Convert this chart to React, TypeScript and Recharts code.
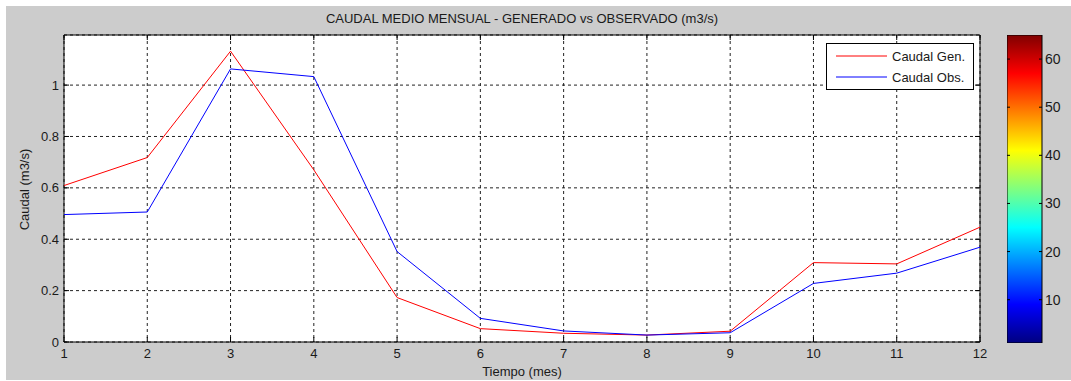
import {
  Bar,
  BarChart,
  CartesianGrid,
  Line,
  LineChart,
  ReferenceArea,
  XAxis,
  YAxis,
} from "recharts";

const months = [1, 2, 3, 4, 5, 6, 7, 8, 9, 10, 11, 12];
const caudalGen = [0.609, 0.718, 1.132, 0.67, 0.173, 0.052, 0.034, 0.027, 0.042, 0.309, 0.304, 0.447];
const caudalObs = [0.496, 0.506, 1.063, 1.033, 0.352, 0.092, 0.043, 0.027, 0.036, 0.228, 0.268, 0.369];
const yTicks = [0, 0.2, 0.4, 0.6, 0.8, 1];
const yMax = 1.195;
const cbTicks = [10, 20, 30, 40, 50, 60];
const cbRange = [1, 65];

const data = months.map((m, i) => ({ mes: m, gen: caudalGen[i], obs: caudalObs[i] }));
const cbData = [{ k: "cb", range: cbRange }];

const FONT = 'Arial, "Liberation Sans", Helvetica, sans-serif';
const INK = "#1a1a1a";
const FS = 13;
// plot box inside the main chart svg
const P = { left: 58, right: 974, top: 29, bottom: 336 };

function XTick(props: any) {
  const { x, y, payload } = props;
  return (
    <g>
      <line x1={x} x2={x} y1={P.bottom} y2={P.bottom - 5} stroke="#000" />
      <line x1={x} x2={x} y1={P.top} y2={P.top + 5} stroke="#000" />
      <text x={x} y={y} dy={16} textAnchor="middle" fill={INK} fontSize={FS} fontFamily={FONT}>
        {payload.value}
      </text>
    </g>
  );
}

function YTick(props: any) {
  const { x, y, payload } = props;
  return (
    <g>
      <line x1={P.left} x2={P.left + 5} y1={y} y2={y} stroke="#000" />
      <line x1={P.right} x2={P.right - 5} y1={y} y2={y} stroke="#000" />
      <text x={x - 5} y={y} dy={4.5} textAnchor="end" fill={INK} fontSize={FS} fontFamily={FONT}>
        {payload.value}
      </text>
    </g>
  );
}

function CbTick(props: any) {
  const { x, y, payload } = props;
  return (
    <g>
      <line x1={x - 35} x2={x - 32} y1={y} y2={y} stroke="#000" />
      <line x1={x - 3} x2={x} y1={y} y2={y} stroke="#000" />
      <text x={x + 3} y={y} dy={5} textAnchor="start" fill={INK} fontSize={14} fontFamily={FONT}>
        {payload.value}
      </text>
    </g>
  );
}

function LegendBox() {
  const items = [
    { label: "Caudal Gen.", color: "#ff0000", y: 12 },
    { label: "Caudal Obs.", color: "#0000ff", y: 33 },
  ];
  return (
    <div style={{ width: 146, height: 45, background: "#fff", border: "1px solid #000", position: "relative" }}>
      <svg width={146} height={45} style={{ position: "absolute", left: 0, top: 0 }}>
        {items.map((it) => (
          <g key={it.label}>
            <line x1={9} x2={60} y1={it.y} y2={it.y} stroke={it.color} />
            <text x={65} y={it.y} dy={4.5} fontSize={FS} fontFamily={FONT} fill={INK}>
              {it.label}
            </text>
          </g>
        ))}
      </svg>
    </div>
  );
}

export default function App() {
  return (
    <div style={{ position: "absolute", left: 0, top: 0, width: 1071, height: 381, background: "#fff" }}>
      <div style={{ position: "absolute", left: 6, top: 6, width: 1065, height: 374, background: "#cccccc", fontFamily: FONT, color: INK }}>
        <div style={{ position: "absolute", left: 216, width: 600, top: 5, lineHeight: "15px", textAlign: "center", fontSize: FS }}>
          CAUDAL MEDIO MENSUAL - GENERADO vs OBSERVADO (m3/s)
        </div>
        <div style={{ position: "absolute", left: 366, width: 300, top: 358, lineHeight: "15px", textAlign: "center", fontSize: FS }}>
          Tiempo (mes)
        </div>
        <div
          style={{
            position: "absolute",
            left: 18 - 60,
            top: 183 - 7.5,
            width: 120,
            lineHeight: "15px",
            textAlign: "center",
            fontSize: FS,
            transform: "rotate(-90deg)",
          }}
        >
          Caudal (m3/s)
        </div>

        <div style={{ position: "absolute", left: 0, top: 0 }}>
          <LineChart width={990} height={374} data={data} margin={{ top: 29, right: 16, left: 0, bottom: 0 }}>
            <CartesianGrid fill="#fff" stroke="#222" strokeDasharray="3 3" />
            <XAxis
              dataKey="mes"
              type="number"
              domain={[1, 12]}
              ticks={months}
              interval={0}
              height={38}
              tickSize={0}
              tickMargin={0}
              axisLine={false}
              tickLine={false}
              tick={<XTick />}
            />
            <YAxis
              type="number"
              domain={[0, yMax]}
              ticks={yTicks}
              interval={0}
              width={58}
              tickSize={0}
              tickMargin={0}
              axisLine={false}
              tickLine={false}
              tick={<YTick />}
            />
            <ReferenceArea x1={1} x2={12} y1={0} y2={yMax} fill="none" stroke="#000" strokeWidth={1} ifOverflow="visible" />
            <Line dataKey="gen" name="Caudal Gen." stroke="#ff0000" strokeWidth={1} dot={false} type="linear" isAnimationActive={false} />
            <Line dataKey="obs" name="Caudal Obs." stroke="#0000ff" strokeWidth={1} dot={false} type="linear" isAnimationActive={false} />
          </LineChart>
        </div>

        <div style={{ position: "absolute", left: 820, top: 37 }}>
          <LegendBox />
        </div>

        <div style={{ position: "absolute", left: 1001, top: 29 }}>
          <BarChart width={65} height={308} data={cbData} margin={{ top: 0, right: 0, left: 0, bottom: 0 }} barCategoryGap={0}>
            <defs>
              <linearGradient id="jet" x1="0" y1="1" x2="0" y2="0">
                <stop offset="0" stopColor="#000080" />
                <stop offset="0.125" stopColor="#0000ff" />
                <stop offset="0.375" stopColor="#00ffff" />
                <stop offset="0.625" stopColor="#ffff00" />
                <stop offset="0.875" stopColor="#ff0000" />
                <stop offset="1" stopColor="#800000" />
              </linearGradient>
            </defs>
            <XAxis dataKey="k" hide />
            <YAxis
              orientation="right"
              type="number"
              domain={cbRange}
              ticks={cbTicks}
              interval={0}
              width={30}
              tickSize={0}
              tickMargin={0}
              axisLine={false}
              tickLine={false}
              tick={<CbTick />}
            />
            <Bar dataKey="range" fill="url(#jet)" stroke="#000" strokeWidth={1} isAnimationActive={false} />
          </BarChart>
        </div>
      </div>
    </div>
  );
}
